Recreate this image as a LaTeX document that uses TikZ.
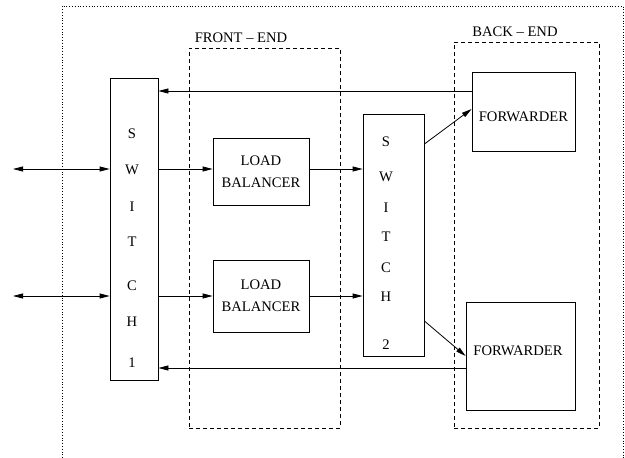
\documentclass[tikz,border=0pt]{standalone}
\usepackage{fontspec}
\setmainfont{Liberation Serif}
\usetikzlibrary{arrows.meta}

\tikzset{
  box/.style={draw,rectangle,inner sep=0pt,line width=0.8pt},
  zone/.style={draw,dash pattern=on 4pt off 3pt,inner sep=0pt,line width=0.8pt},
  arr/.style={-{Triangle[length=10pt,width=5pt]},line width=0.8pt},
  dbl/.style={{Triangle[length=10pt,width=5pt]}-{Triangle[length=10pt,width=5pt]},line width=0.8pt},
  letter/.style={inner sep=0pt}
}

\begin{document}
\begin{tikzpicture}[x=1pt,y=-1pt,font=\fontsize{14.6}{22}\selectfont]
  \useasboundingbox (0,0) rectangle (625,458);
  % outer frame
  \draw[dotted,line width=0.8pt] (62,458) -- (62,6) -- (623,6) -- (623,458);

  % front and back end zones
  \node[zone,minimum width=151pt,minimum height=380pt] (fe) at (264.5,238) {};
  \node (felabel) at (241,38) {FRONT -- END};
  \node[zone,minimum width=145pt,minimum height=386pt] (be) at (526.5,235) {};
  \node (belabel) at (515,32) {BACK -- END};

  % boxes
  \node[box,minimum width=48pt,minimum height=302pt] (sw1) at (134,229) {};
  \node[box,minimum width=61pt,minimum height=242pt] (sw2) at (393.5,235) {};
  \node[box,minimum width=96pt,minimum height=67pt,align=center] (lb1) at (261,171.5) {LOAD\\BALANCER};
  \node[box,minimum width=96pt,minimum height=72pt,align=center] (lb2) at (261,296) {LOAD\\BALANCER};
  \node[box,minimum width=103pt,minimum height=79pt] (fw1) at (523.5,111.5) {};
  \node[box,minimum width=109pt,minimum height=108pt] (fw2) at (520.5,356) {};
  \node (fw1txt) at ([yshift=-5.5pt]fw1.center) {FORWARDER};
  \node (fw2txt) at ([xshift=-2.5pt,yshift=5pt]fw2.center) {FORWARDER};

  % switch letters
  \foreach \ch/\y [count=\i] in {S/134,W/170,I/207,T/242,C/286,H/322,1/363}
    \node[letter] (sw1t\i) at (132,\y) {\ch};
  \foreach \ch/\y [count=\i] in {S/142,W/177,I/208,T/237,C/268,H/297,2/345}
    \node[letter] (sw2t\i) at (386,\y) {\ch};

  % inputs
  \coordinate (in1) at (13,169);
  \coordinate (in2) at (13,296);
  \foreach \from/\lb in {in1/lb1,in2/lb2} {
    \draw[dbl] (\from) -- (\from -| sw1.west);
    \draw[arr] (\from -| sw1.east) -- (\from -| \lb.west);
    \draw[arr] (\from -| \lb.east) -- (\from -| sw2.west);
  }

  % switch 2 to forwarders
  \draw[arr] ([yshift=91pt]sw2.east) -- ([yshift=2.5pt]fw1.west);
  \draw[arr] ([yshift=-86pt]sw2.east) -- (fw2.west);

  % replies back to switch 1
  \draw[arr] ([yshift=20.5pt]fw1.west) coordinate (r1) -- (r1 -| sw1.east);
  \draw[arr] ([yshift=-12pt]fw2.west) coordinate (r2) -- (r2 -| sw1.east);
\end{tikzpicture}
\end{document}
